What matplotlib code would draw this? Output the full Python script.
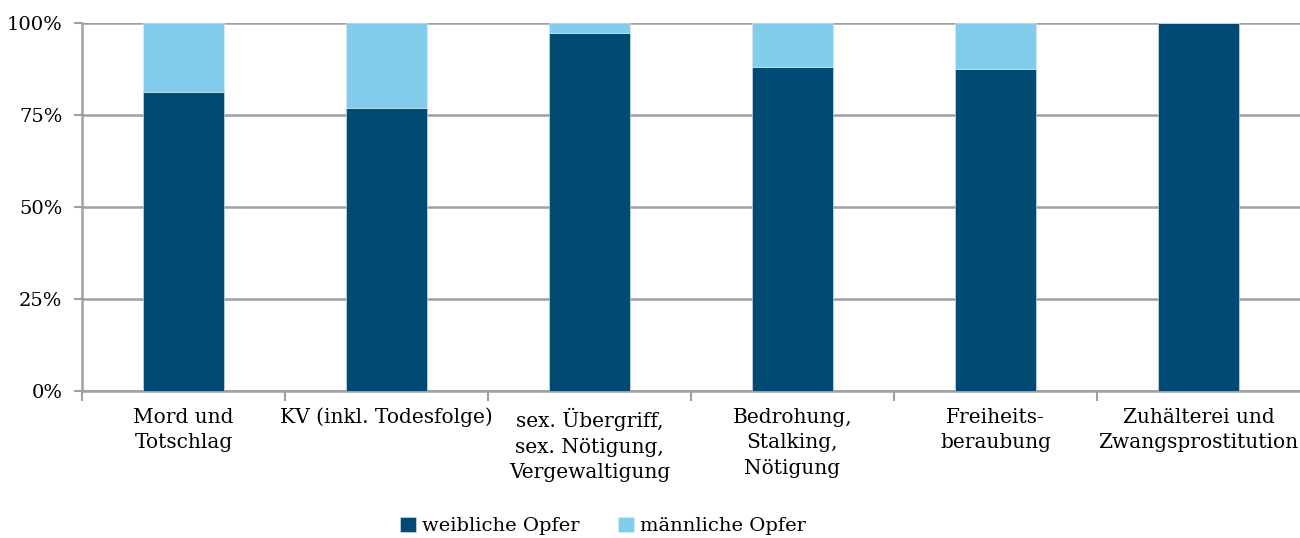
import matplotlib.pyplot as plt
import numpy as np

categories = ["Mord und\nTotschlag", "KV (inkl. Todesfolge)",
              "sex. Übergriff,\nsex. Nötigung,\nVergewaltigung",
              "Bedrohung,\nStalking,\nNötigung", "Freiheits-\nberaubung",
              "Zuhälterei und\nZwangsprostitution"]
weiblich = [81.3, 76.8, 97.4, 88.1, 87.6, 100.0]
maennlich = [100 - w for w in weiblich]

dark = "#004a73"
light = "#82cdeb"
grey = "#a0a0a0"

plt.rcParams['font.family'] = ['DejaVu Serif']
plt.rcParams['font.size'] = 14

fig = plt.figure(figsize=(13, 5.38), dpi=100)
ax = fig.add_axes([82/1300, 147/538, 1218/1300, 368/538])

x = np.arange(len(categories))
ax.bar(x, weiblich, width=0.4, color=dark, edgecolor="#dbe9f0", linewidth=0.4,
       label="weibliche Opfer", zorder=3)
ax.bar(x, maennlich, width=0.4, bottom=weiblich, color=light, edgecolor="#dbe9f0",
       linewidth=0.4, label="männliche Opfer", zorder=3)

ax.set_xlim(-0.5, len(categories) - 0.5)
ax.set_ylim(0, 100)
ax.set_yticks([0, 25, 50, 75, 100])
ax.set_yticklabels(["0%", "25%", "50%", "75%", "100%"], fontsize=14)
ax.yaxis.grid(True, color=grey, linewidth=1.8, zorder=0)
ax.tick_params(axis='y', length=6, width=1.5, color=grey, pad=8)

ax.set_xticks(x)
ax.set_xticklabels(categories, fontsize=14.5, linespacing=1.45)
ax.tick_params(axis='x', which='major', length=0, pad=12)
ax.set_xticks(np.arange(len(categories)) - 0.5, minor=True)
ax.tick_params(axis='x', which='minor', length=7, width=1.5, color=grey)

for s in ["top", "right"]:
    ax.spines[s].set_visible(False)
for s in ["left", "bottom"]:
    ax.spines[s].set_color(grey)
    ax.spines[s].set_linewidth(1.8)

fig.legend(loc="center", bbox_to_anchor=(603/1300, 0.022), ncol=2, frameon=False,
           fontsize=14, handlelength=0.8, handleheight=0.8, handletextpad=0.3,
           columnspacing=2.0)

fig.savefig("out.png", dpi=100)
